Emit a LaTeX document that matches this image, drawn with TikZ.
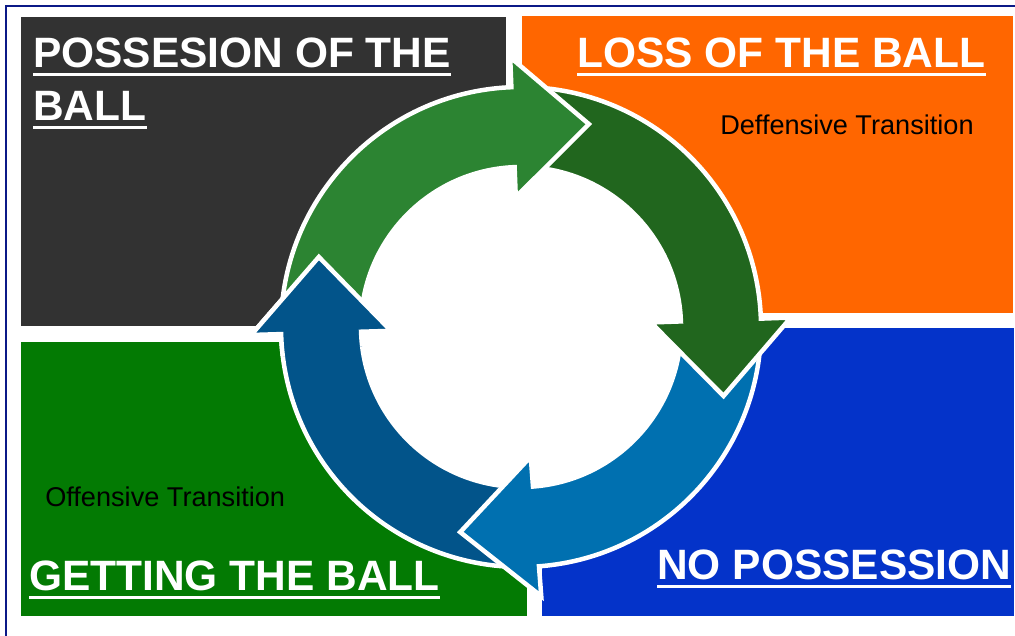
\documentclass[tikz,border=0pt]{standalone}
\usepackage{fontspec}
\setmainfont{Liberation Sans}
\usetikzlibrary{calc}

\definecolor{frameblue}{HTML}{0B1987}
\definecolor{boxgray}{HTML}{323232}
\definecolor{boxorange}{HTML}{FF6600}
\definecolor{boxgreen}{HTML}{037A03}
\definecolor{boxblue}{HTML}{0433C9}
\definecolor{arrgreen}{HTML}{2C8432}
\definecolor{arrdarkgreen}{HTML}{21661E}
\definecolor{arrlightblue}{HTML}{0070B0}
\definecolor{arrdarkblue}{HTML}{02548A}

% one curved arrow of the cycle: #1 fill colour, #2 tail angle, #3 angle of the head base
\newcommand\cyclearrow[3]{%
  \path[ring,fill=#1]
    ($(C)+(#2:240)$) arc[start angle=#2, end angle=#3, radius=240]
    -- ($(C)+(#3:270)$)
    -- ($(C)+(#3:200)+(#3-90:76)$)
    -- ($(C)+(#3:130)$)
    -- ($(C)+(#3:160)$) arc[start angle=#3, end angle=#2, radius=160]
    -- cycle;}

\begin{document}
\begin{tikzpicture}[x=0.25mm, y=0.25mm,
  ring/.style={draw=white, line width=3.2pt, line join=miter},
  title/.style={anchor=base west, inner sep=0pt, text=white,
                font=\fontsize{30.2}{36}\selectfont\bfseries},
  note/.style={anchor=base west, inner sep=0pt, text=black,
               font=\fontsize{19.3}{23}\selectfont},
  uline/.style={draw=white, line width=2.1pt}]

\useasboundingbox (0,0) rectangle (1015,636);
\fill[white] (0,0) rectangle (1015,636);

% frame
\draw[frameblue, line width=2pt] (6,-10) -- (6,630) -- (1025,630);

% quadrant panels
\fill[boxgray]   (21,310)  rectangle (506,619);
\fill[boxorange] (522,323) rectangle (1013,620);
\fill[boxgreen]  (21,20)   rectangle (527,294);
\fill[boxblue]   (542,20)  rectangle (1014,308);

% cycle of arrows around a white hub
\coordinate (C) at (521,309);
\fill[white] (C) circle[radius=162];
\cyclearrow{arrdarkblue}{-85.7}{-178.3}
\cyclearrow{arrlightblue}{2}{-85.7}
\cyclearrow{arrdarkgreen}{92.3}{2}
\cyclearrow{arrgreen}{181.7}{92.3}
\begin{scope}
  \clip (C) -- ($(C)+(148:330)$) arc[start angle=148, end angle=187, radius=330] -- cycle;
  \cyclearrow{arrdarkblue}{-85.7}{-178.3}
\end{scope}

% titles
\node[title] (posA) at (33,568) {POSSESION OF THE};
\node[title] (posB) at (33,515) {BALL};
\node[title] (loss) at (577,568) {LOSS OF THE BALL};
\node[title] (get)  at (29,45)   {GETTING THE BALL};
\node[title] (nopo) at (657,56)  {NO POSSESSION};
\foreach \t in {posA,posB,loss,get,nopo}
  \draw[uline] ($(\t.base west)+(0,-6.5)$) -- ($(\t.base east)+(0,-6.5)$);

% notes
\node[note] (def) at (720,501) {Deffensive Transition};
\node[note] (off) at (45,129)  {Offensive Transition};
\end{tikzpicture}
\end{document}
